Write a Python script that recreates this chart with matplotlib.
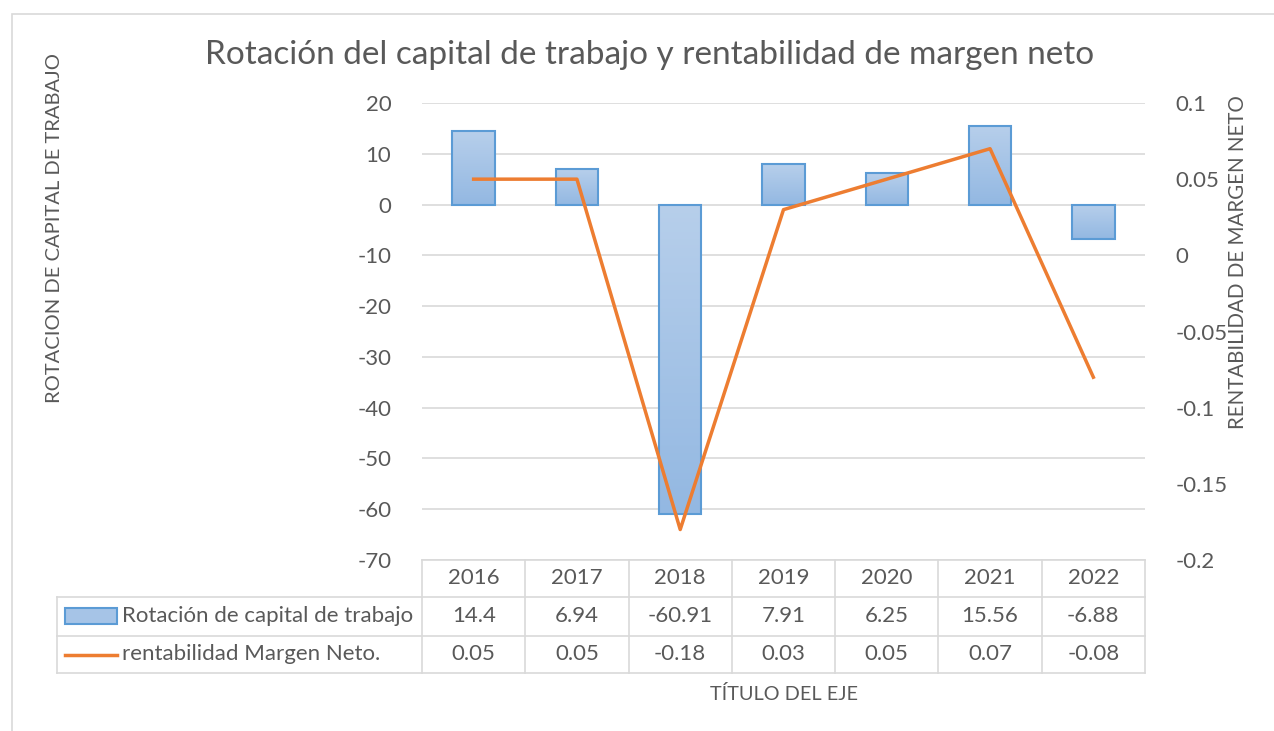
import numpy as np
import matplotlib.pyplot as plt
from matplotlib.patches import Rectangle
from matplotlib.colors import LinearSegmentedColormap

plt.rcParams['font.family'] = ['Lato', 'DejaVu Sans']
plt.rcParams['axes.unicode_minus'] = False

years = ['2016', '2017', '2018', '2019', '2020', '2021', '2022']
rotacion = [14.4, 6.94, -60.91, 7.91, 6.25, 15.56, -6.88]
margen = [0.05, 0.05, -0.18, 0.03, 0.05, 0.07, -0.08]
rotacion_txt = ['14.4', '6.94', '-60.91', '7.91', '6.25', '15.56', '-6.88']
margen_txt = ['0.05', '0.05', '-0.18', '0.03', '0.05', '0.07', '-0.08']

txt = '#595959'
grid = '#D9D9D9'
blue_edge = '#5B9BD5'
orange = '#ED7D31'
fs = 16

W, H = 1274, 731
fig = plt.figure(figsize=(W / 100, H / 100), dpi=100)

# chart border
fig.patches.append(Rectangle((12 / W, -0.1), 1.2, 1 - 14 / H + 0.1,
                             transform=fig.transFigure, fill=False,
                             edgecolor=grid, lw=1.2))

ax = fig.add_axes([422 / W, 171 / H, 723 / W, 457 / H])
x = np.arange(len(years))
ax.set_yticks(np.arange(-70, 21, 10))
ax.set_xticks([])
ax.grid(axis='y', color=grid, lw=1.2)
ax.set_axisbelow(True)
for s in ax.spines.values():
    s.set_visible(False)
ax.tick_params(axis='y', length=0, labelsize=fs, labelcolor=txt, pad=22)

cmap = LinearSegmentedColormap.from_list('g', ['#B7CFEB', '#93B8E2'])
grad = np.linspace(0, 1, 256).reshape(-1, 1)
bw = 0.41
for xi, v in zip(x, rotacion):
    top, bot = max(v, 0), min(v, 0)
    rect = Rectangle((xi - bw / 2, bot), bw, top - bot, facecolor='none',
                     edgecolor=blue_edge, lw=1.5, zorder=3)
    ax.add_patch(rect)
    im = ax.imshow(grad, cmap=cmap, aspect='auto',
                   extent=(xi - bw / 2, xi + bw / 2, bot, top), zorder=2)
    im.set_clip_path(rect)
ax.set_xlim(-0.5, len(years) - 0.5)
ax.set_ylim(-70, 20)

ax2 = ax.twinx()
ax2.plot(x, margen, color=orange, lw=2.5, zorder=4)
ax2.set_ylim(-0.2, 0.1)
ax2.set_yticks([-0.2, -0.15, -0.1, -0.05, 0, 0.05, 0.1])
ax2.set_yticklabels(['-0.2', '-0.15', '-0.1', '-0.05', '0', '0.05', '0.1'])
for s in ax2.spines.values():
    s.set_visible(False)
ax2.tick_params(axis='y', length=0, labelsize=fs, labelcolor=txt, pad=22)

# title and axis labels
fig.text(650 / W, 1 - 55 / H, 'Rotación del capital de trabajo y rentabilidad de margen neto',
         ha='center', va='center', fontsize=24, color=txt)
fig.text(55 / W, 1 - 228 / H, 'ROTACION DE CAPITAL DE TRABAJO', rotation=90,
         ha='center', va='center', fontsize=14.5, color=txt)
fig.text(1238 / W, 1 - 262 / H, 'RENTABILIDAD DE MARGEN NETO', rotation=90,
         ha='center', va='center', fontsize=14.8, color=txt)
fig.text(784 / W, 1 - 694 / H, 'TÍTULO DEL EJE', ha='center', va='center',
         fontsize=14.3, color=txt)

# data table
def fx(px):
    return px / W

def fy(py):
    return 1 - py / H

tl = 57
c0, c1 = 422, 1145
r0, r1, r2, r3 = 560, 597, 636, 673
cw = (c1 - c0) / len(years)
kw = dict(transform=fig.transFigure, color=grid, lw=1.2)
fig.add_artist(plt.Line2D([fx(c0), fx(c1)], [fy(r0), fy(r0)], **kw))
for r in (r1, r2, r3):
    fig.add_artist(plt.Line2D([fx(tl), fx(c1)], [fy(r), fy(r)], **kw))
fig.add_artist(plt.Line2D([fx(tl), fx(tl)], [fy(r1), fy(r3)], **kw))
for i in range(len(years) + 1):
    xc = c0 + i * cw
    fig.add_artist(plt.Line2D([fx(xc), fx(xc)], [fy(r0), fy(r3)], **kw))

for i, (yr, a, b) in enumerate(zip(years, rotacion_txt, margen_txt)):
    xc = fx(c0 + (i + 0.5) * cw)
    fig.text(xc, fy((r0 + r1) / 2), yr, ha='center', va='center', fontsize=fs, color=txt)
    fig.text(xc, fy((r1 + r2) / 2), a, ha='center', va='center', fontsize=fs, color=txt)
    fig.text(xc, fy((r2 + r3) / 2), b, ha='center', va='center', fontsize=fs, color=txt)

# legend keys inside the table
fig.patches.append(Rectangle((fx(65), fy(624)), fx(52), 16 / H, transform=fig.transFigure,
                             facecolor='#A6C4E7', edgecolor=blue_edge, lw=1.5))
fig.add_artist(plt.Line2D([fx(65), fx(117)], [fy(655), fy(655)],
                          transform=fig.transFigure, color=orange, lw=2.5))
fig.text(fx(122), fy((r1 + r2) / 2), 'Rotación de capital de trabajo', ha='left',
         va='center', fontsize=fs, color=txt)
fig.text(fx(122), fy((r2 + r3) / 2), 'rentabilidad Margen Neto.', ha='left',
         va='center', fontsize=fs, color=txt)

fig.savefig('out.png', dpi=100)
